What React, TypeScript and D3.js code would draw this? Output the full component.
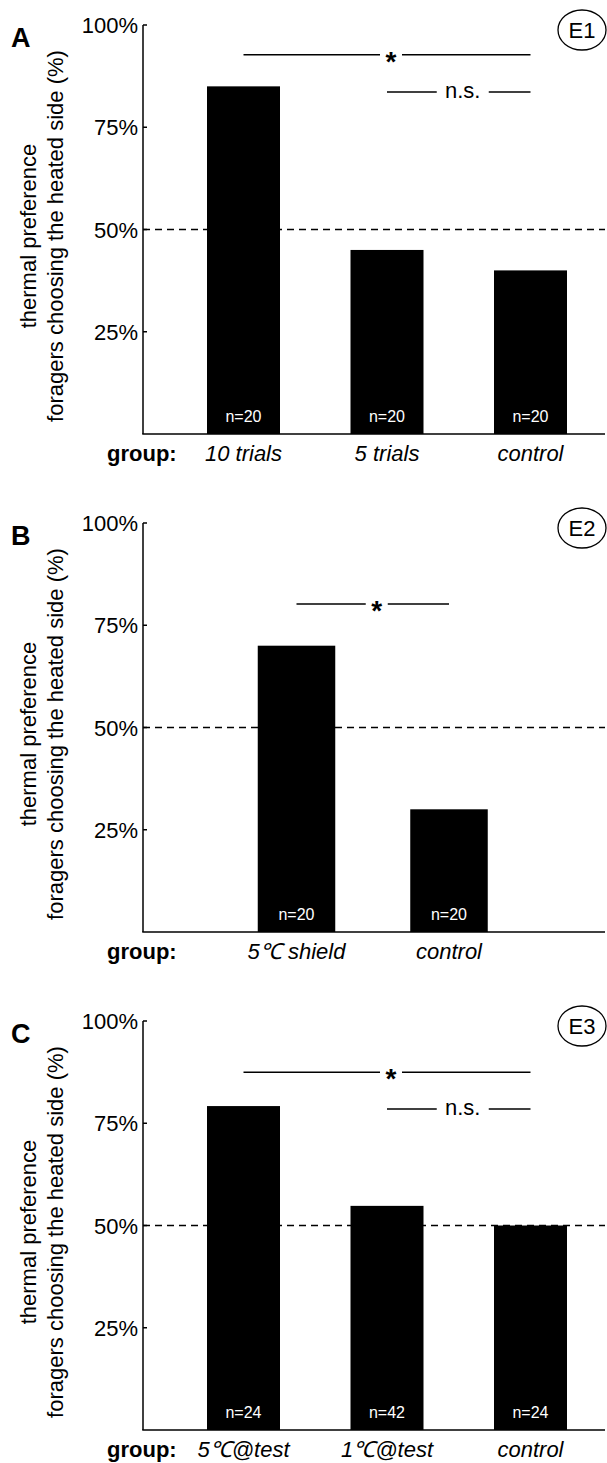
import React from "react";
import * as d3 from "d3";

// Shared y axis
const yTickValues = [25, 50, 75, 100];
const yTickLabels = ["25%", "50%", "75%", "100%"];
const chanceLevel = 50;

// Experiment 1
const e1Groups = ["10 trials", "5 trials", "control"];
const e1Values = [85, 45, 40];
const e1Counts = ["n=20", "n=20", "n=20"];
const e1Tests = [
  { from: "10 trials", to: "control", label: "*" },
  { from: "5 trials", to: "control", label: "n.s." },
];

// Experiment 2
const e2Groups = ["5℃ shield", "control"];
const e2Values = [70, 30];
const e2Counts = ["n=20", "n=20"];
const e2Tests = [{ from: "5℃ shield", to: "control", label: "*" }];

// Experiment 3
const e3Groups = ["5℃@test", "1℃@test", "control"];
const e3Values = [79.2, 54.8, 50];
const e3Counts = ["n=24", "n=42", "n=24"];
const e3Tests = [
  { from: "5℃@test", to: "control", label: "*" },
  { from: "1℃@test", to: "control", label: "n.s." },
];

const FONT = "'Liberation Sans', Arial, Helvetica, sans-serif";
const W = 607;
const H = 1463;
const AXIS_X = 143;
const RIGHT_X = 605;
const PLOT_H = 409;

type Test = { from: string; to: string; label: string };

type PanelProps = {
  top: number;
  letter: string;
  tag: string;
  groups: string[];
  values: number[];
  counts: string[];
  tests: Test[];
  testLevels: number[];
  xRange: [number, number];
  barWidth: number;
};

function Panel(p: PanelProps) {
  const y = d3.scaleLinear().domain([0, 100]).range([p.top + PLOT_H, p.top]);
  const x = d3.scalePoint<string>().domain(p.groups).range(p.xRange);
  const y0 = y(0);
  const mid = p.top + 211;

  return (
    <g>
      {/* chance level */}
      <line
        x1={AXIS_X}
        x2={RIGHT_X}
        y1={y(chanceLevel)}
        y2={y(chanceLevel)}
        stroke="#000"
        strokeWidth={1.3}
        strokeDasharray="7 5"
      />
      {/* bars */}
      {p.groups.map((g, i) => (
        <rect
          key={g}
          x={(x(g) as number) - p.barWidth / 2}
          y={y(p.values[i])}
          width={p.barWidth}
          height={y0 - y(p.values[i])}
          fill="#000"
        />
      ))}
      {p.groups.map((g, i) => (
        <text
          key={g + "n"}
          x={x(g) as number}
          y={y0 - 12}
          fill="#fff"
          fontSize={16}
          textAnchor="middle"
          fontFamily={FONT}
        >
          {p.counts[i]}
        </text>
      ))}
      {/* axes */}
      <line x1={AXIS_X} x2={AXIS_X} y1={y(100)} y2={y0} stroke="#000" strokeWidth={1.5} />
      <line x1={AXIS_X - 0.75} x2={RIGHT_X} y1={y0} y2={y0} stroke="#000" strokeWidth={1.5} />
      {yTickValues.map((t, i) => (
        <g key={t}>
          <line x1={AXIS_X} x2={AXIS_X + 4} y1={y(t)} y2={y(t)} stroke="#000" strokeWidth={1.5} />
          <text
            x={138}
            y={y(t) + 8}
            textAnchor="end"
            fontSize={22}
            fontFamily={FONT}
          >
            {yTickLabels[i]}
          </text>
        </g>
      ))}
      {/* y axis title */}
      <text
        transform={`translate(36, ${mid}) rotate(-90)`}
        textAnchor="middle"
        fontSize={22}
        fontFamily={FONT}
      >
        thermal preference
      </text>
      <text
        transform={`translate(63, ${mid}) rotate(-90)`}
        textAnchor="middle"
        fontSize={22}
        fontFamily={FONT}
      >
        foragers choosing the heated side (%)
      </text>
      {/* group labels */}
      <text x={107} y={y0 + 27} fontSize={22} fontWeight="bold" fontFamily={FONT}>
        group:
      </text>
      {p.groups.map((g) => (
        <text
          key={g + "lab"}
          x={x(g) as number}
          y={y0 + 27}
          fontSize={22}
          fontStyle="italic"
          textAnchor="middle"
          fontFamily={FONT}
        >
          {g}
        </text>
      ))}
      {/* panel letter and experiment tag */}
      <text x={11} y={p.top + 22} fontSize={27} fontWeight="bold" fontFamily={FONT}>
        {p.letter}
      </text>
      <ellipse cx={582} cy={p.top + 5} rx={24} ry={20} fill="none" stroke="#000" strokeWidth={1.3} />
      <text x={582} y={p.top + 13} fontSize={22} textAnchor="middle" fontFamily={FONT}>
        {p.tag}
      </text>
      {/* significance */}
      {p.tests.map((t, i) => {
        const x1 = x(t.from) as number;
        const x2 = x(t.to) as number;
        const ly = y(p.testLevels[i]);
        const isStar = t.label === "*";
        const cx = (x1 + x2) / 2 + 4;
        const gap = isStar ? 11 : 26;
        return (
          <g key={i}>
            <line x1={x1} x2={cx - gap} y1={ly} y2={ly} stroke="#000" strokeWidth={1.5} />
            <line x1={cx + gap} x2={x2} y1={ly} y2={ly} stroke="#000" strokeWidth={1.5} />
            <text
              x={cx}
              y={isStar ? ly + 16 : ly + 6}
              fontSize={isStar ? 28 : 22}
              fontWeight={isStar ? "bold" : "normal"}
              textAnchor="middle"
              fontFamily={FONT}
            >
              {t.label}
            </text>
          </g>
        );
      })}
    </g>
  );
}

export default function App() {
  return (
    <svg
      width={W}
      height={H}
      viewBox={`0 0 ${W} ${H}`}
      style={{ position: "absolute", left: 0, top: 0, background: "#fff" }}
    >
      <rect width={W} height={H} fill="#fff" />
      <Panel
        top={25}
        letter="A"
        tag="E1"
        groups={e1Groups}
        values={e1Values}
        counts={e1Counts}
        tests={e1Tests}
        testLevels={[92.7, 83.6]}
        xRange={[243.5, 530.5]}
        barWidth={73}
      />
      <Panel
        top={523}
        letter="B"
        tag="E2"
        groups={e2Groups}
        values={e2Values}
        counts={e2Counts}
        tests={e2Tests}
        testLevels={[80.2]}
        xRange={[296.5, 449]}
        barWidth={77.5}
      />
      <Panel
        top={1021}
        letter="C"
        tag="E3"
        groups={e3Groups}
        values={e3Values}
        counts={e3Counts}
        tests={e3Tests}
        testLevels={[87.5, 78.5]}
        xRange={[243.5, 530.5]}
        barWidth={73}
      />
    </svg>
  );
}
